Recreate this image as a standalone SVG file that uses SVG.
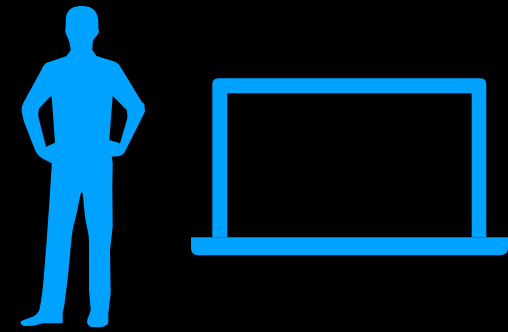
<svg xmlns="http://www.w3.org/2000/svg" width="508" height="332" viewBox="0 0 508 332">
<style>.s{fill:#00a2ff;fill-rule:evenodd}</style>
<rect width="508" height="332" fill="#000"/>
<g id="person">
<path class="s" d="M81.7 6C75 6 70 8 67.5 12.5C66 15.5 65.7 19 65.7 23L65.7 28L65 30C65.3 33 67 36 68.3 39C69.5 43 70.5 46 70.7 50L66.7 56L46.7 62.7C44.5 64 43 66 41.7 69.3L23.3 103C22 106 21.5 108 21.7 110C22 114 23 118 24 121.7L35 150C37 154 39 156 41.7 158L51.7 163.3L51.7 165L50 193L46.7 240L43.3 283C42 295 41 303 39.3 310C38 313 36 315 33.3 316.5L21.7 320.7C20.5 321.5 20.3 322.5 20.7 323.3C21.5 325 23 326 25 326L33 325.7L43 323.3L61 323.3C62 323.3 62.7 322.7 62.7 321.7L62.7 312.7C64 308 64.5 304 65 300L68.3 273L71.7 236.7C72.5 228 75 221 76.7 213L81 192.3L82.7 193L85 216.7C86 225 88.7 232 89 240L89 290L90.7 310C90 314 87.8 317 87.3 320C87 322 87 323 87.3 323.3C88.5 326 91 327.3 93.3 327.3L100 327.3C104 327 107 325.5 108.3 323.3L108.3 313.3L110.7 293.3L110 250L112.7 226.7L112.3 186.7L112.7 163L111.7 156.7L120 156C122 155 124 153.5 125 151.7L143.3 115L145 111.7L144.3 104L141.7 101.7L119.3 65C118 63.5 117 62.5 115 61.7L96.7 56L92.3 50C92.5 46 92.5 43 93.3 40C95.5 37 98 35 99 31.7L98.3 28L98.3 22C98.3 18 97.5 15 96 12.5C93.5 8 88.5 6 81.7 6Z
M50 96.7L39.3 108.3C38.5 111 38 114 38.3 116.7L46 146.7L55 142.7L51.7 96.7Z
M112.7 96L126.7 110C127.2 113 127.5 115.5 127.3 118.3L120 143.3L109.3 140Z"/>
</g>
<g id="laptop">
<path class="s" d="M218.3 78.3L480 78.3Q486.3 78.3 486.3 84.3L486.3 237.3L471.7 237.3L471.7 93.3L227.3 93.3L227.3 237.3L212.3 237.3L212.3 84.3Q212.3 78.3 218.3 78.3Z"/>
<path class="s" d="M191 237.3L508 237.3L508 248Q508 255.3 500 255.3L198 255.3Q191 255.3 191 248Z"/>
</g>
</svg>
